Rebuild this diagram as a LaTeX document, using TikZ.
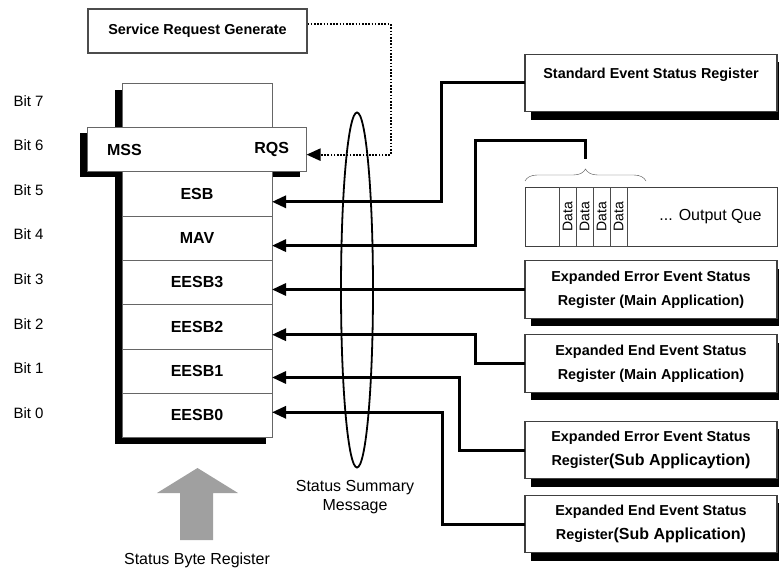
\documentclass[tikz,border=0pt]{standalone}
\usepackage{fontspec}
\setmainfont{Liberation Sans}
\usetikzlibrary{positioning,shapes.geometric,arrows.meta,decorations.pathreplacing,backgrounds}
\definecolor{arrowgray}{RGB}{160,160,160}

\begin{document}
\begin{tikzpicture}[x=1pt, y=-1pt,
		boldtxt/.style={font=\fontsize{14.4}{24}\selectfont\bfseries},
		bittxt/.style={font=\fontsize{16}{19}\selectfont\bfseries},
		plaintxt/.style={font=\fontsize{16}{19}\selectfont},
		rowbox/.style={draw=black!60, fill=white, outer sep=0pt, minimum width=150pt, minimum height=44.3pt, bittxt},
		regbox/.style={draw=black!75, line width=1.2pt, fill=white, outer sep=0pt, minimum width=252pt, minimum height=57.5pt, align=center, boldtxt},
		datacell/.style={draw=black!70, outer sep=0pt, minimum width=17pt, minimum height=59pt, inner sep=0pt, font=\fontsize{14}{16}\selectfont},
		conn/.style={line width=3pt, -{Triangle[length=14pt, width=12pt]}}]
		\useasboundingbox (0,0) rectangle (779,572);
		% Generador de petición de servicio
		\node[draw=black!70, line width=1.2pt, minimum width=219pt, minimum height=44pt, boldtxt] (srg) at (197.5,31) {Service Request Generate};
		% Registro de byte de estado (bit 7 arriba, bit 0 abajo)
		\node[rowbox] (b7) at (197,105.5) {};
		\node[rowbox, minimum width=219pt, minimum height=44pt, below=0pt of b7] (b6) {};
		\node[bittxt, anchor=west] (mss) at ([xshift=16pt]b6.west) {MSS};
		\node[bittxt, anchor=east] (rqs) at ([xshift=-14pt]b6.east) {RQS};
		\node[rowbox, below=0pt of b6] (b5) {ESB};
		\node[rowbox, below=0pt of b5] (b4) {MAV};
		\node[rowbox, below=0pt of b4] (b3) {EESB3};
		\node[rowbox, below=0pt of b3] (b2) {EESB2};
		\node[rowbox, below=0pt of b2] (b1) {EESB1};
		\node[rowbox, below=0pt of b1] (b0) {EESB0};
		% Etiquetas de los bits
		\foreach \i in {0,...,7}
			\node[font=\fontsize{15}{18}\selectfont, anchor=west] (bit\i) at (10,{413-44.6*\i}) {Bit \i};
		% Registros de la derecha
		\node[regbox] (sesr) at (651,83) {};
		\node[boldtxt, anchor=north] (sesrtxt) at ([yshift=-10pt]sesr.north) {Standard Event Status Register};
		\node[regbox, line width=0.8pt, minimum height=59pt] (oq) at (651,216.5) {};
		\foreach \i in {1,...,4}
			\node[datacell, anchor=west] (d\i) at ([xshift=17*\i+17]oq.west) {\rotatebox{90}{Data}};
		\node[plaintxt, anchor=east] (oqtxt) at ([xshift=-12pt]oq.east) {... Output Que};
		\draw[black!70, decorate, decoration={brace, amplitude=12pt}] ([yshift=6pt]oq.north west) -- ([xshift=121pt, yshift=6pt]oq.north west);
		\coordinate (quetip) at (585,159);
		\node[regbox] (eeem) at (651,289.5) {Expanded Error Event Status\\Register (Main Application)};
		\node[regbox] (eedm) at (651,363.5) {Expanded End Event Status\\Register (Main Application)};
		\node[regbox] (eesub) at (651,450) {Expanded Error Event Status\\Register{\fontsize{16}{24}\selectfont(Sub Applicaytion)}};
		\node[regbox] (eedsub) at (651,524) {Expanded End Event Status\\Register{\fontsize{16}{24}\selectfont(Sub Application)}};
		% Sombras
		\begin{scope}[on background layer]
			\fill ([shift={(-7pt,-7pt)}]b7.north west) rectangle ([shift={(-6pt,-7pt)}]b0.south east);
			\fill ([shift={(-8pt,-5pt)}]b6.north west) rectangle ([shift={(-7pt,-5pt)}]b6.south east);
			\foreach \reg in {sesr,eeem,eedm,eesub,eedsub}
				\fill ([shift={(6pt,-8pt)}]\reg.north west) rectangle ([shift={(6pt,-8pt)}]\reg.south east);
		\end{scope}
		% Conexiones
		\draw[line width=2.2pt, dash pattern=on 1.6pt off 1.6pt, -{Triangle[length=14pt, width=12pt]}] ([yshift=7pt]srg.east) -- ++(83,0) |- ([yshift=-5pt]b6.east);
		\draw[conn] (sesr.west) -- ++(-84,0) |- ([yshift=-8pt]b5.east);
		\draw[conn] (quetip) -- ++(0,-18) -- ++(-110,0) |- ([yshift=-7.5pt]b4.east);
		\draw[conn] (eeem.west) -- (eeem.west -| b3.east);
		\draw[conn] (eedm.west) -- ++(-50,0) |- ([yshift=-8pt]b2.east);
		\draw[conn] (eesub.west) -- ++(-66,0) |- ([yshift=-6.5pt]b1.east);
		\draw[conn] (eedsub.west) -- ++(-83,0) |- ([yshift=3pt]b0.east);
		% Mensaje de resumen de estado
		\node[draw, ellipse, line width=1.8pt, minimum width=32pt, minimum height=355pt] (ssm) at (357,290) {};
		\node[plaintxt, align=center] (ssmtxt) at (355,497) {Status Summary\\Message};
		% Flecha gris y título
		\fill[arrowgray] (180,540) -- (180,493) -- (157,493) -- (197.5,468) -- (238,493) -- (213,493) -- (213,540) -- cycle;
		\node[plaintxt] (sbrtxt) at (197,560) {Status Byte Register};
	\end{tikzpicture}
\end{document}
